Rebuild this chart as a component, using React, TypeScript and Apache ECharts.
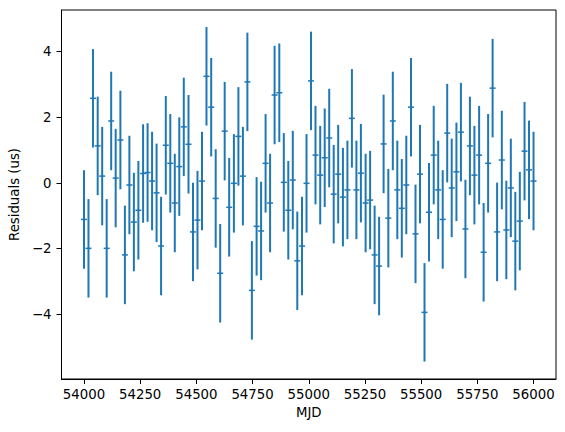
import React, { useEffect, useRef } from "react";
import * as echarts from "echarts";

const MJD: number[] = [
  54000, 54020, 54040, 54061, 54081, 54101, 54121, 54141, 54162, 54182,
  54202, 54222, 54242, 54263, 54283, 54303, 54323, 54343, 54364, 54384,
  54404, 54424, 54444, 54465, 54485, 54505, 54525, 54545, 54566, 54586,
  54606, 54626, 54646, 54667, 54687, 54707, 54727, 54747, 54768, 54788,
  54808, 54828, 54848, 54869, 54889, 54909, 54929, 54949, 54970, 54990,
  55010, 55030, 55051, 55071, 55091, 55111, 55131, 55152, 55172, 55192,
  55212, 55232, 55253, 55273, 55293, 55313, 55333, 55354, 55374, 55394,
  55414, 55434, 55455, 55475, 55495, 55515, 55535, 55556, 55576, 55596,
  55616, 55636, 55657, 55677, 55697, 55717, 55737, 55758, 55778, 55798,
  55818, 55838, 55859, 55879, 55899, 55919, 55939, 55960, 55980, 56000,
];

const RESIDUALS: number[] = [
  -1.11, -1.99, 2.58, 1.13, 0.21, -1.99, 1.89, 0.15, 1.31, -2.19,
  -0.06, -1.19, -0.83, 0.29, 0.32, 0.06, -0.3, -1.92, 1.15, 0.6,
  -0.61, 0.5, 1.71, 1.18, -1.49, -1.13, 0.06, 3.25, 2.31, -0.47,
  -2.75, 1.58, -0.74, -0.01, 1.42, 0.21, 3.08, -3.27, -1.32, -1.46,
  0.6, -0.61, 2.68, 2.75, 0.02, -0.83, 0.09, -2.37, -1.92, -0.01,
  3.11, 0.85, 0.24, 0.77, 1.37, -0.34, 0.27, -0.43, -0.21, 1.97,
  -0.21, 0.3, -0.61, -0.52, -2.19, -2.53, 1.19, -1.07, 1.89, -0.21,
  -0.77, -0.06, 2.31, -1.55, 0.27, -3.94, -0.89, 0.85, -0.21, -1.11,
  1.52, -0.15, 0.34, 1.55, -1.4, 1.13, 0.24, 0.85, -2.11, 0.6,
  2.89, -1.49, 0.7, -1.43, -0.15, -1.77, -1.16, 0.97, 0.4, 0.06,
];

const ERROR_US = 1.5;

const X_TICKS: number[] = [54000, 54250, 54500, 54750, 55000, 55250, 55500, 55750, 56000];
const Y_TICKS: number[] = [-4, -2, 0, 2, 4];

const BLUE = "#1f77b4";
const FONT = "DejaVu Sans";

export default function App() {
  const ref = useRef<HTMLDivElement>(null);

  useEffect(() => {
    if (!ref.current) return;
    const chart = echarts.init(ref.current, undefined, { renderer: "svg" });
    const data = MJD.map((x, i) => [x, RESIDUALS[i], ERROR_US]);

    chart.setOption({
      animation: false,
      backgroundColor: "#ffffff",
      textStyle: { fontFamily: FONT },
      grid: {
        left: 60,
        right: 9,
        top: 10,
        bottom: 53,
        show: true,
        borderColor: "#000",
        borderWidth: 1,
        backgroundColor: "transparent",
      },
      xAxis: {
        type: "value",
        min: 53900,
        max: 56100,
        name: "MJD",
        nameLocation: "middle",
        nameGap: 27,
        nameTextStyle: { fontSize: 13.3, color: "#000", fontFamily: FONT },
        axisLine: { show: true, onZero: false, lineStyle: { color: "#000", width: 1 } },
        axisTick: {
          show: true,
          inside: false,
          length: 5,
          lineStyle: { color: "#000", width: 1 },
          customValues: X_TICKS,
        },
        axisLabel: {
          show: true,
          margin: 9,
          fontSize: 13.3,
          color: "#000",
          fontFamily: FONT,
          customValues: X_TICKS,
          formatter: (v: number) => String(v),
        },
        splitLine: { show: false },
      },
      yAxis: {
        type: "value",
        min: -5.97,
        max: 5.27,
        name: "Residuals (us)",
        nameLocation: "middle",
        nameGap: 30,
        nameRotate: 90,
        nameTextStyle: { fontSize: 13.3, color: "#000", fontFamily: FONT },
        axisLine: { show: true, onZero: false, lineStyle: { color: "#000", width: 1 } },
        axisTick: {
          show: true,
          inside: false,
          length: 5,
          lineStyle: { color: "#000", width: 1 },
          customValues: Y_TICKS,
        },
        axisLabel: {
          show: true,
          margin: 10,
          fontSize: 13.3,
          color: "#000",
          fontFamily: FONT,
          customValues: Y_TICKS,
          formatter: (v: number) => (v < 0 ? "\u2212" + Math.abs(v) : String(v)),
        },
        splitLine: { show: false },
      },
      series: [
        {
          type: "custom",
          data,
          encode: { x: 0, y: 1 },
          clip: true,
          renderItem: (params: any, api: any) => {
            const x = api.value(0);
            const y = api.value(1);
            const e = api.value(2);
            const c = api.coord([x, y]);
            const top = api.coord([x, y + e]);
            const bot = api.coord([x, y - e]);
            return {
              type: "group",
              children: [
                {
                  type: "line",
                  shape: { x1: top[0], y1: top[1], x2: bot[0], y2: bot[1] },
                  style: { stroke: BLUE, lineWidth: 2 },
                },
                {
                  type: "line",
                  shape: { x1: c[0] - 3, y1: c[1], x2: c[0] + 3, y2: c[1] },
                  style: { stroke: BLUE, lineWidth: 1.5 },
                },
              ],
            };
          },
        },
      ],
    });

    return () => chart.dispose();
  }, []);

  return (
    <div
      ref={ref}
      style={{ position: "fixed", left: 0, top: 0, width: 565, height: 432 }}
    />
  );
}
